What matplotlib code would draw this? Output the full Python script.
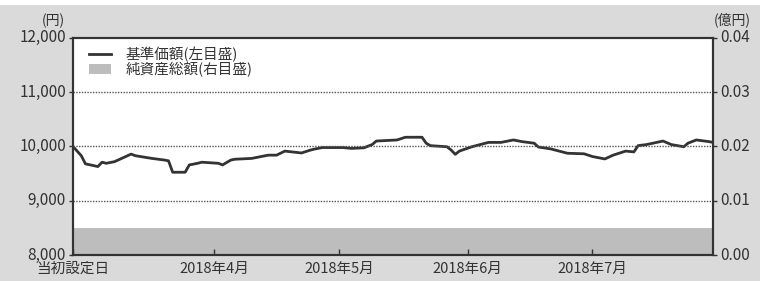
import numpy as np
import pandas as pd
import matplotlib.pyplot as plt
import matplotlib.transforms as mtransforms
from matplotlib.patches import Rectangle

plt.rcParams['font.family'] = ['Noto Sans CJK JP', 'DejaVu Sans']

# 基準価額 (円)
nav_dates = ['2018-02-26', '2018-02-28', '2018-03-01', '2018-03-04', '2018-03-05',
             '2018-03-06', '2018-03-08', '2018-03-12', '2018-03-13', '2018-03-17',
             '2018-03-20', '2018-03-21', '2018-03-22', '2018-03-25', '2018-03-26',
             '2018-03-28', '2018-03-29', '2018-04-02', '2018-04-03', '2018-04-05',
             '2018-04-06', '2018-04-10', '2018-04-12', '2018-04-14', '2018-04-16',
             '2018-04-18', '2018-04-22', '2018-04-24', '2018-04-25', '2018-04-27',
             '2018-05-02', '2018-05-04', '2018-05-07', '2018-05-09', '2018-05-10',
             '2018-05-15', '2018-05-17', '2018-05-21', '2018-05-22', '2018-05-23',
             '2018-05-27', '2018-05-28', '2018-05-29', '2018-05-30', '2018-06-02',
             '2018-06-06', '2018-06-09', '2018-06-12', '2018-06-14', '2018-06-17',
             '2018-06-18', '2018-06-21', '2018-06-25', '2018-06-29', '2018-07-01',
             '2018-07-04', '2018-07-06', '2018-07-09', '2018-07-11', '2018-07-12',
             '2018-07-14', '2018-07-18', '2018-07-20', '2018-07-23', '2018-07-24',
             '2018-07-26', '2018-07-29', '2018-07-30']
nav_values = [10000, 9830, 9680, 9630, 9710,
              9690, 9720, 9860, 9830, 9780,
              9750, 9735, 9525, 9525, 9660,
              9690, 9710, 9690, 9660, 9750,
              9765, 9780, 9810, 9840, 9840,
              9915, 9880, 9930, 9950, 9980,
              9980, 9965, 9975, 10035, 10100,
              10120, 10170, 10170, 10060, 10015,
              9995, 9935, 9855, 9915, 9995,
              10075, 10075, 10120, 10090, 10060,
              9990, 9955, 9875, 9865, 9815,
              9770, 9840, 9915, 9900, 10015,
              10035, 10100, 10035, 9995, 10060,
              10120, 10090, 10075]

# 純資産総額 (億円)
asset_dates = ['2018-02-26', '2018-04-01', '2018-05-01', '2018-06-01', '2018-07-01', '2018-07-30']
asset_values = [0.0050, 0.0050, 0.0050, 0.0050, 0.0050, 0.0050]

tick_dates = ['2018-02-26', '2018-04-01', '2018-05-01', '2018-06-01', '2018-07-01']
tick_labels = ['当初設定日', '2018年4月', '2018年5月', '2018年6月', '2018年7月']

nav_x = pd.to_datetime(nav_dates)
asset_x = pd.to_datetime(asset_dates)

bg = '#dadada'
dark = '#333333'

fig = plt.figure(figsize=(7.6, 2.81), dpi=100, facecolor=bg)
fig.patches.append(Rectangle((0, 0.982), 1, 0.018, transform=fig.transFigure,
                             facecolor='white', edgecolor='none', zorder=0))

ax = fig.add_axes([0.096, 0.0925, 0.842, 0.7725])
ax2 = ax.twinx()
ax.set_zorder(ax2.get_zorder() + 1)
ax.patch.set_visible(False)
ax2.patch.set_visible(True)
ax2.patch.set_facecolor('white')

ax2.fill_between(asset_x, 0, asset_values, color='#bdbdbd', lw=0)
ax2.set_ylim(0, 0.04)
ax2.set_yticks([0.00, 0.01, 0.02, 0.03, 0.04])
ax2.set_yticklabels(['0.00', '0.01', '0.02', '0.03', '0.04'])

ax.plot(nav_x, nav_values, color=dark, lw=2)
ax.set_ylim(8000, 12000)
ax.set_yticks([8000, 9000, 10000, 11000, 12000])
ax.set_yticklabels(['8,000', '9,000', '10,000', '11,000', '12,000'])
for v in [9000, 10000, 11000]:
    ax.axhline(v, color='#555555', lw=1, ls=(0, (1, 1)))

ax.set_xlim(nav_x[0], nav_x[-1])
ax.set_xticks(pd.to_datetime(tick_dates))
ax.set_xticklabels(tick_labels)

for a in (ax, ax2):
    for s in a.spines.values():
        s.set_color(dark)
        s.set_linewidth(1.5)
ax.tick_params(axis='y', direction='out', length=3, width=1, color=dark,
               labelsize=11, labelcolor='#333333', pad=2)
ax2.tick_params(axis='y', direction='out', length=3, width=1, color=dark,
                labelsize=11, labelcolor='#333333', pad=2)
ax.tick_params(axis='x', direction='in', length=4, width=1, color=dark,
               labelsize=10.5, labelcolor='#333333', pad=5)

# y目盛ラベルを少し上げる
up = mtransforms.ScaledTranslation(0, 2 / 100, fig.dpi_scale_trans)
for lbl in ax.get_yticklabels() + ax2.get_yticklabels():
    lbl.set_transform(lbl.get_transform() + up)

fig.text(0.07, 0.925, '(円)', ha='center', va='center', fontsize=10, color='#333333')
fig.text(0.963, 0.928, '(億円)', ha='center', va='center', fontsize=10, color='#333333')

h1, = ax.plot([], [], color=dark, lw=2, label='基準価額(左目盛)')
h2 = Rectangle((0, 0), 1, 1, facecolor='#bdbdbd', edgecolor='none', label='純資産総額(右目盛)')
ax.legend(handles=[h1, h2], loc='upper left', bbox_to_anchor=(0.005, 1.02), frameon=False,
          fontsize=10.5, handlelength=1.5, handletextpad=1.0, labelspacing=0.0,
          labelcolor='#333333')

fig.savefig('out.png', dpi=100, facecolor=bg)
